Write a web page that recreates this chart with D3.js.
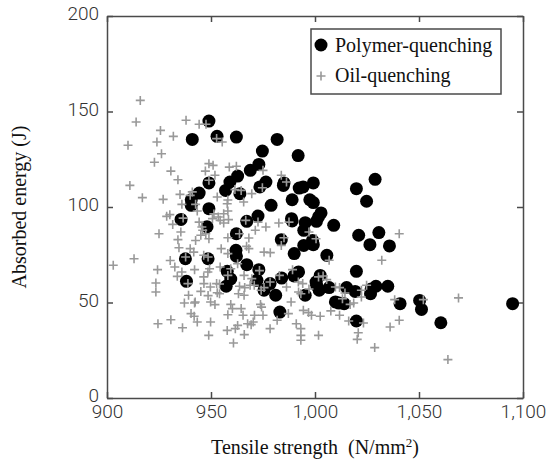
<!DOCTYPE html>
<html>
<head>
<meta charset="utf-8">
<script src="https://cdn.jsdelivr.net/npm/d3@7"></script>
<style>
  html, body { margin: 0; padding: 0; background: #fff; }
  svg { display: block; }
</style>
</head>
<body>
<div id="chart"></div>
<script>
// Tensile strength (N/mm2) vs absorbed energy (J)
const polymerPoints = [
  [949,145],[941,135.4],[952.9,137],[962.2,136.6],[981.8,135.4],[974.7,129.3],[991.9,126.9],
  [1028.9,114.5],[973,122.3],[968.9,119.2],[962.8,116.2],[959.1,113.1],[957,108.7],[949,112.6],
  [944.3,107.3],[940.5,103.8],[940.5,100.9],[949,99.1],[935.6,93.5],[973.5,110.5],[976.4,113.1],
  [963.9,107],[978.9,100.9],[985.1,112.6],[984.8,111.3],[992.4,109.9],[994.3,110.5],[999.2,112.6],
  [989,103.8],[997.5,103.8],[999.2,102.3],[1019.9,109.6],[1024.8,103],[972.6,95.3],[967.2,92.5],
  [948.1,89.7],[962.2,86],[988.7,93.9],[989,92.7],[995.3,91.8],[994.6,87.8],[1002.9,96.9],
  [1001.7,94.8],[1000.7,92.5],[1009,90.4],[1021,85.2],[1030.7,86.6],[983.8,82.9],[998.8,82.5],
  [994.6,79.9],[999.2,80.3],[1026.4,80.3],[1035.8,79.6],[962,77.3],[962.2,74.2],[937.7,72.9],
  [948.6,72.9],[990,75.6],[1005.7,74.7],[967.2,69.8],[973,67.2],[1019.9,66.3],[957.8,66.3],
  [938.2,61.1],[959.5,62.3],[957.3,58.5],[972.1,61.6],[978.4,59.9],[975.5,56.4],[984,62.8],
  [989.9,63.9],[992.1,66],[1000.5,60.7],[1002.5,64.2],[1002,56.4],[1006.8,57.8],[995.3,53.8],
  [981.1,53.8],[1000.8,59],[1015.2,57.8],[1019.3,55.8],[1026.7,54.6],[1029.3,58.5],[1035,58.5],
  [1027,57.1],[1009.8,50.3],[1014,49.4],[1011.5,49.7],[1040.9,49.4],[1050.3,51.1],[1051.2,46.4],
  [1060.5,39.4],[1019.9,40.3],[983.1,45],[1095,49.4]
];

const oilPoints = [
  [916,155.8],[914,144.5],[910.1,132.3],[911,111.3],[913,72.9],[903,69.5],[917,104.9],[922.8,123.4],
  [926.2,127.9],[925.7,140.1],[924,134],[931.9,137],[938,145.4],[944.3,143.3],[947.6,143.3],
  [952.7,135.8],[955.4,134],[930.7,118.8],[934.1,114.3],[927,104],[925,86],[928.7,95.1],[930.2,96],
  [931.6,90.9],[934.1,82.9],[934.6,78.7],[924.3,67.2],[923.5,60.2],[923.5,55.5],[924.5,38.9],
  [930.7,41],[936.3,36.8],[937.2,49.7],[930.4,72],[932.6,68.6],[933.8,63.7],[936,66],[937.8,73.8],
  [942.1,49.7],[942.4,50.3],[940.4,44.2],[941.9,42.8],[943.4,39.8],[948.9,32.8],[949.8,39.8],
  [948.6,53.6],[949.8,50.3],[951.9,48.9],[949.7,58.1],[952.7,59.9],[953,55.1],[946.5,63.4],
  [946.6,59.9],[948.5,66],[949.3,67.7],[946.5,74.7],[942.1,67.2],[941.7,76.4],[940,78.2],
  [942.6,82.5],[945.1,85.2],[946,87.8],[945.6,89.5],[944.3,92.1],[943.4,97.9],[942.6,101.4],
  [940,106.1],[941,107.9],[936,101.4],[935.1,106.6],[936.6,94.2],[935.5,86.9],[947.5,86],[949,83.4],
  [948.6,73.8],[949,122.7],[947.3,118.8],[951,121.8],[951.9,116.6],[949,114],[953,105.2],
  [951.4,96.4],[950.7,93.9],[953.5,94.8],[956.1,91.6],[956.1,96.5],[954.4,93],[958.1,97.9],
  [958.4,93.4],[958.1,83.9],[954.9,78.2],[958.1,75.6],[958.8,120.9],[962.2,121.3],[958.1,103.7],
  [957.8,101.7],[961.5,109.1],[965.7,102.6],[964.5,108.7],[963.7,86],[966.7,93],[968.2,83.8],
  [967.1,79.4],[968.2,78.2],[971.3,87.8],[969.6,107],[974.7,110.1],[975,119.2],[976.4,89.5],
  [975.5,76.4],[978.5,76.1],[972.6,92.1],[983.8,116.6],[986.3,113.1],[987.5,92.1],[982.6,91.6],
  [983.8,79.9],[985.1,83.9],[982.9,64.2],[989.2,67.2],[986.3,58.1],[992,60.7],[994.1,59.9],
  [997.1,86.9],[1000.5,83.4],[1006.8,72.1],[1001.7,63.4],[1005.6,62],[992.1,55.5],[993.2,54.6],
  [988.5,50.3],[987.2,44.2],[994.4,45.9],[996.9,44.7],[998.3,43.3],[993.2,36.3],[993.2,32.8],
  [993.2,30.2],[991,38.9],[981.8,40.7],[978.4,36.3],[975,43.3],[973.8,49],[974.3,47.6],[970.9,43.3],
  [970.3,39.8],[969.3,38.4],[967.6,38.9],[966,33.2],[962.8,38],[960.8,28.8],[961.7,36.3],[957.8,35.4],
  [958.1,43.6],[960.3,46.8],[959.5,49],[964.5,46.8],[965.4,43.3],[965.9,53.8],[963.2,54.6],
  [963.7,58.5],[966.2,57.8],[968.8,59],[970.8,59],[969.6,62.5],[965.9,64.2],[958.1,64.2],
  [959.5,67.7],[962.8,70.3],[954.4,68.6],[954.1,59.7],[954.1,54.6],[945.1,55.8],[939.2,53.8],
  [938.9,59.9],[973.3,66.7],[978.4,60.7],[974.1,56.4],[975.5,57.8],[1011.8,57.8],[1013.2,52],
  [1014.4,55],[1016.9,49],[1018.6,49.7],[1022.3,52.9],[1024.8,59],[1022.3,56.4],[1032.1,72.1],
  [1040.5,86],[1038.3,51.5],[1036.1,37.2],[1040.5,40.7],[1052.1,51.5],[1069,52.4],[1063.9,20.1],
  [1028.7,26.4],[1020.3,30.7],[1020.8,34.2],[1023.3,39.3],[1016.2,40.3],[1011.8,43.3],[1007.6,45.6],
  [1002.5,42.8],[1001.7,32.8],[997.1,57.1],[1009.8,58.1],[1003.9,63.9]
];

const xTicks = [900, 950, 1000, 1050, 1100];
const yTicks = [0, 50, 100, 150, 200];
const legendLabels = ["Polymer-quenching", "Oil-quenching"];

const width = 549, height = 459;
const margin = { top: 16, right: 26, bottom: 61, left: 107 };
const axisColor = "#4a4a4a";
const crossColor = "#999";
const tickFont = "Roboto, 'Liberation Sans', sans-serif";
const serifFont = "'Liberation Serif', 'DejaVu Serif', serif";

const svg = d3.select("#chart").append("svg")
  .attr("width", width)
  .attr("height", height);

const x = d3.scaleLinear().domain([900, 1100]).range([margin.left, width - margin.right]);
const y = d3.scaleLinear().domain([0, 200]).range([height - margin.bottom, margin.top]);

// axes (ticks point inward on all four sides)
function styleAxis(g) {
  g.select(".domain").attr("stroke", axisColor).attr("stroke-width", 1.5);
  g.selectAll(".tick line").attr("stroke", axisColor).attr("stroke-width", 1.5);
  g.selectAll(".tick text")
    .attr("fill", "#333")
    .style("font-family", tickFont)
    .style("font-weight", 300)
    .style("font-size", "19px");
}

svg.append("g")
  .attr("transform", `translate(0,${y(0)})`)
  .call(d3.axisBottom(x).tickValues(xTicks).tickFormat(d3.format(",")).tickSizeInner(-6).tickSizeOuter(0).tickPadding(7))
  .call(styleAxis);

svg.append("g")
  .attr("transform", `translate(0,${y(200)})`)
  .call(d3.axisTop(x).tickValues(xTicks).tickFormat("").tickSizeInner(-6).tickSizeOuter(0))
  .call(styleAxis);

svg.append("g")
  .attr("transform", `translate(${x(900)},0)`)
  .call(d3.axisLeft(y).tickValues(yTicks).tickSizeInner(-6).tickSizeOuter(0).tickPadding(8))
  .call(styleAxis)
  .call(g => g.selectAll(".tick text").attr("dy", "0.2em"));

svg.append("g")
  .attr("transform", `translate(${x(1100)},0)`)
  .call(d3.axisRight(y).tickValues(yTicks).tickFormat("").tickSizeInner(-6).tickSizeOuter(0))
  .call(styleAxis);

// axis titles
svg.append("text")
  .attr("x", (x(900) + x(1100)) / 2)
  .attr("y", 454)
  .attr("text-anchor", "middle")
  .style("font-family", serifFont)
  .style("font-size", "20px")
  .attr("fill", "#111")
  .call(t => {
    t.append("tspan").text("Tensile strength\u00a0\u00a0(N/mm");
    t.append("tspan").attr("dy", -7).style("font-size", "13px").text("2");
    t.append("tspan").attr("dy", 7).text(")");
  });

svg.append("text")
  .attr("transform", `translate(26,${(y(0) + y(200)) / 2}) rotate(-90)`)
  .attr("text-anchor", "middle")
  .style("font-family", serifFont)
  .style("font-size", "20px")
  .attr("fill", "#111")
  .text("Absorbed energy (J)");

// data
const plot = svg.append("g");

plot.append("g").selectAll("circle")
  .data(polymerPoints)
  .join("circle")
  .attr("cx", d => x(d[0]))
  .attr("cy", d => y(d[1]))
  .attr("r", 6.5)
  .attr("fill", "#000");

const cross = 4.5;
plot.append("g").selectAll("path")
  .data(oilPoints)
  .join("path")
  .attr("d", d => {
    const cx = x(d[0]), cy = y(d[1]);
    return `M${cx - cross},${cy}H${cx + cross}M${cx},${cy - cross}V${cy + cross}`;
  })
  .attr("stroke", crossColor)
  .attr("stroke-width", 1.6)
  .attr("fill", "none");

// legend
const legend = svg.append("g").attr("transform", "translate(311,29)");
legend.append("rect")
  .attr("width", 190).attr("height", 65)
  .attr("fill", "#fff")
  .attr("stroke", axisColor)
  .attr("stroke-width", 1.5);

legend.append("circle").attr("cx", 10).attr("cy", 16).attr("r", 6.5).attr("fill", "#000");
legend.append("path")
  .attr("d", `M${10 - cross},47H${10 + cross}M10,${47 - cross}V${47 + cross}`)
  .attr("stroke", crossColor).attr("stroke-width", 1.6);

legend.selectAll("text.lbl")
  .data(legendLabels)
  .join("text")
  .attr("class", "lbl")
  .attr("x", 24)
  .attr("y", (d, i) => 23 + i * 30)
  .style("font-family", serifFont)
  .style("font-size", "20px")
  .attr("fill", "#111")
  .text(d => d);
</script>
</body>
</html>
